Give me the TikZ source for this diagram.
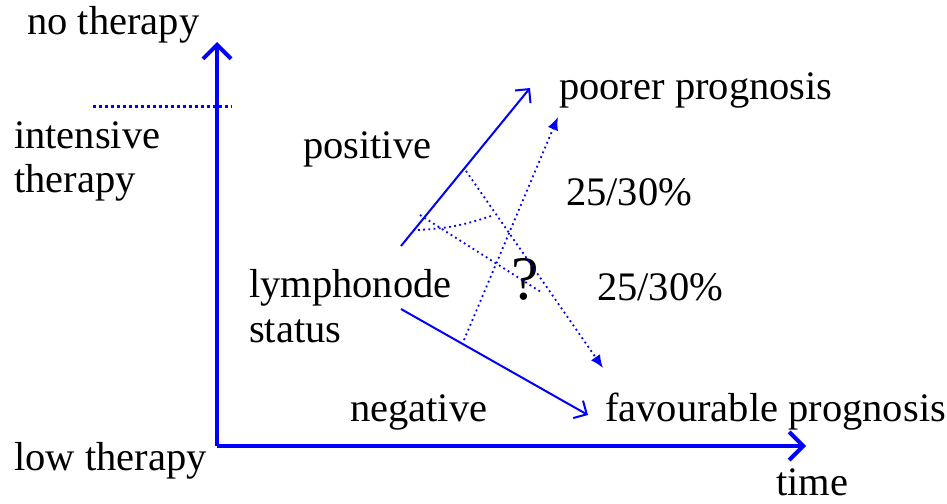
\documentclass[tikz,border=0pt]{standalone}
\usepackage{fontspec}
\setmainfont{Liberation Serif}
\usetikzlibrary{arrows.meta}
\definecolor{pureblue}{HTML}{0000FF}

\begin{document}
\begin{tikzpicture}[x=1pt, y=-1pt,
  lbl/.style={anchor=base west, inner sep=0pt, font=\fontsize{40.5}{45}\selectfont},
  axisline/.style={pureblue, line width=4pt, -{Straight Barb[length=14pt, width=28pt]}},
  branch/.style={pureblue, line width=2pt, -{Straight Barb[length=10pt, width=20pt]}},
  dotline/.style={pureblue, line width=1.8pt, dash pattern=on 1.8pt off 3.4pt},
  dotarrow/.style={dotline, -{Latex[length=13pt, width=11pt]}}]
  \useasboundingbox (0,0) rectangle (947,503);
  % axes
  \coordinate (origin) at (217,446);
  \coordinate (ytip) at (217,42);
  \coordinate (xtip) at (806,446);
  \draw[axisline] (origin) -- (ytip);
  \draw[axisline] (origin) -- (xtip);
  \coordinate (limL) at (93,106);
  \coordinate (limR) at (232,106);
  \draw[pureblue, line width=3pt, dash pattern=on 3pt off 3pt] (limL) -- (limR);
  % texts
  \node[lbl] (notherapy) at (27,35) {no therapy};
  \node[lbl] (intensive) at (14,148) {intensive};
  \node[lbl] (intensive2) at (14,192) {therapy};
  \node[lbl] (lowtherapy) at (14,470) {low therapy};
  \node[lbl] (time) at (776,495) {time};
  \node[lbl] (lymph) at (249,297) {lymphonode};
  \node[lbl] (lymph2) at (249,342) {status};
  \node[lbl] (positive) at (303,158) {positive};
  \node[lbl] (negative) at (350,421) {negative};
  \node[lbl] (poorer) at (559,99) {poorer prognosis};
  \node[lbl] (favour) at (605,421) {favourable prognosis};
  \node[lbl] (pctup) at (566,205) {25/30\%};
  \node[lbl] (pctdown) at (597,300) {25/30\%};
  \node[lbl, font=\fontsize{62}{62}\selectfont] (query) at (511,299) {?};
  % branches
  \coordinate (posA) at (401,246);
  \coordinate (posB) at (530,88);
  \coordinate (negA) at (401,309);
  \coordinate (negB) at (588,415);
  \draw[branch] (posA) -- (posB);
  \draw[branch] (negA) -- (negB);
  % dotted guesses
  \coordinate (upA) at (464,340);
  \coordinate (upB) at (558,117);
  \coordinate (downA) at (466,171);
  \coordinate (downB) at (603,368);
  \coordinate (crossA) at (420,215);
  \coordinate (crossB) at (541,292);
  \coordinate (curveA) at (418,230);
  \coordinate (curveB) at (494,215);
  \draw[dotarrow] (upA) -- (upB);
  \draw[dotarrow] (downA) -- (downB);
  \draw[dotline] (crossA) -- (crossB);
  \draw[dotline] (curveA) to[bend right=8] (curveB);
\end{tikzpicture}
\end{document}
